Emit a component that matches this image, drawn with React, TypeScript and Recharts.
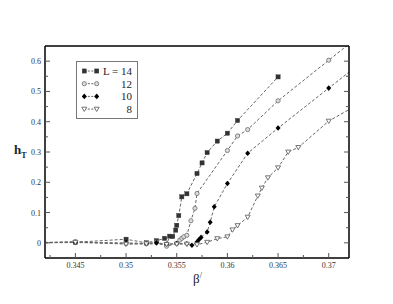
import { Legend, Line, LineChart, XAxis, YAxis } from "recharts"

// beta / h_T readings per lattice size (points outside the frame only carry the dashed line to the edge)
const betaL14 = [0.34, 0.345, 0.35, 0.352, 0.353, 0.3538, 0.354, 0.3543, 0.3546, 0.3549, 0.355, 0.3552, 0.3555, 0.356, 0.357, 0.3575, 0.358, 0.359, 0.36, 0.361, 0.365]
const hL14 = [0, 0.002, 0.012, 0, 0.007, 0.015, -0.005, 0.022, 0.021, 0.042, 0.058, 0.09, 0.152, 0.162, 0.229, 0.264, 0.298, 0.336, 0.362, 0.404, 0.548]

const betaL12 = [0.34, 0.345, 0.35, 0.352, 0.353, 0.354, 0.355, 0.3553, 0.3555, 0.3557, 0.356, 0.3564, 0.3568, 0.357, 0.36, 0.361, 0.362, 0.365, 0.37, 0.375]
const hL12 = [0, 0.004, -0.003, -0.003, 0.002, -0.011, -0.002, 0.009, 0.015, 0.02, 0.025, 0.073, 0.114, 0.163, 0.305, 0.353, 0.374, 0.469, 0.603, 0.737]

const betaL10 = [0.34, 0.345, 0.35, 0.352, 0.353, 0.354, 0.355, 0.356, 0.3565, 0.357, 0.3572, 0.3574, 0.358, 0.3583, 0.3587, 0.36, 0.362, 0.365, 0.37, 0.375]
const hL10 = [0, 0.001, 0, -0.002, 0, -0.004, -0.002, -0.003, -0.008, 0.003, 0.011, 0.018, 0.036, 0.068, 0.119, 0.196, 0.296, 0.379, 0.511, 0.643]

const betaL8 = [0.34, 0.345, 0.35, 0.352, 0.354, 0.355, 0.356, 0.357, 0.358, 0.359, 0.36, 0.3605, 0.361, 0.362, 0.363, 0.3634, 0.364, 0.365, 0.366, 0.367, 0.37, 0.375]
const hL8 = [0, 0.002, -0.004, -0.003, -0.005, -0.004, -0.004, -0.006, 0.002, 0.014, 0.02, 0.043, 0.057, 0.085, 0.155, 0.181, 0.215, 0.248, 0.3, 0.315, 0.402, 0.497]

const seriesLabels = ["L = 14", "12", "10", "8"]
const seriesMarkers = ["square", "circle", "diamond", "triangle"]

const xMajor = [0.345, 0.35, 0.355, 0.36, 0.365, 0.37]
const xMinor = [0.3425, 0.3475, 0.3525, 0.3575, 0.3625, 0.3675]
const yMajor = [0, 0.1, 0.2, 0.3, 0.4, 0.5, 0.6]
const yMinor = [0.05, 0.15, 0.25, 0.35, 0.45, 0.55]

const toPoints = (xs: number[], ys: number[]) => xs.map((beta, i) => ({ beta, h: ys[i] }))

const series = [
  toPoints(betaL14, hL14),
  toPoints(betaL12, hL12),
  toPoints(betaL10, hL10),
  toPoints(betaL8, hL8),
]

const xTicks = [...xMajor, ...xMinor].sort((a, b) => a - b)
const yTicks = [...yMajor, ...yMinor].sort((a, b) => a - b)

const isMajor = (v: number, majors: number[]) => majors.some((m) => Math.abs(m - v) < 1e-9)
const fmt = (v: number) => String(Number(v.toFixed(4)))

const serif = "'Liberation Serif', 'DejaVu Serif', serif"
const tickColor = "#555"
const lineColor = "#666"
const frame = { stroke: "#000", strokeWidth: 1.5 }

function Marker({ kind, cx, cy }: { kind: string; cx: number; cy: number }) {
  if (kind === "square")
    return <rect x={cx - 2.1} y={cy - 2.1} width={4.2} height={4.2} fill="#333" stroke="#333" strokeWidth={0.4} />
  if (kind === "circle")
    return <circle cx={cx} cy={cy} r={2.1} fill="#ddd" stroke="#777" strokeWidth={0.9} />
  if (kind === "diamond")
    return <polygon points={`${cx},${cy - 2.8} ${cx + 2.5},${cy} ${cx},${cy + 2.8} ${cx - 2.5},${cy}`} fill="#000" />
  return (
    <polygon
      points={`${cx - 2.5},${cy - 1.9} ${cx + 2.5},${cy - 1.9} ${cx},${cy + 2.4}`}
      fill="#fff"
      stroke="#666"
      strokeWidth={0.9}
    />
  )
}

function BottomTick({ x, y, payload }: any) {
  const major = isMajor(payload.value, xMajor)
  return (
    <g>
      <line x1={x} x2={x} y1={y} y2={y - (major ? 5 : 3)} stroke={tickColor} />
      {major && (
        <text x={x} y={y + 10} textAnchor="middle" fontSize={8} fontFamily={serif} fill="#333">
          {fmt(payload.value)}
        </text>
      )}
    </g>
  )
}

function TopTick({ x, y, payload }: any) {
  const major = isMajor(payload.value, xMajor)
  return <line x1={x} x2={x} y1={y} y2={y + (major ? 5 : 3)} stroke={tickColor} />
}

function LeftTick({ x, y, payload }: any) {
  const major = isMajor(payload.value, yMajor)
  return (
    <g>
      <line x1={x} x2={x + (major ? 5 : 3)} y1={y} y2={y} stroke={tickColor} />
      {major && (
        <text x={x - 4} y={y + 3} textAnchor="end" fontSize={8} fontFamily={serif} fill="#333">
          {fmt(payload.value)}
        </text>
      )}
    </g>
  )
}

function RightTick({ x, y, payload }: any) {
  const major = isMajor(payload.value, yMajor)
  return <line x1={x} x2={x - (major ? 5 : 3)} y1={y} y2={y} stroke={tickColor} />
}

function LegendBox() {
  return (
    <svg width={62} height={58} style={{ display: "block" }}>
      <rect x={0.5} y={0.5} width={61} height={57} fill="#fff" stroke="#777" strokeWidth={1} />
      {seriesLabels.map((label, i) => {
        const cy = 10 + i * 12.7
        return (
          <g key={label}>
            <line x1={8.3} x2={20.7} y1={cy} y2={cy} stroke={lineColor} strokeDasharray="2 1.5" />
            <Marker kind={seriesMarkers[i]} cx={8.3} cy={cy} />
            <Marker kind={seriesMarkers[i]} cx={20.7} cy={cy} />
            <text x={56} y={cy + 3.8} textAnchor="end" fontSize={11} fontFamily={serif} fill="#222">
              {label}
            </text>
          </g>
        )
      })}
    </svg>
  )
}

export default function App() {
  return (
    <div style={{ position: "absolute", left: 0, top: 0, background: "#fff" }}>
      <LineChart width={393} height={304} margin={{ top: 45, right: 43, bottom: 45, left: 44 }}>
        <XAxis
          dataKey="beta"
          type="number"
          domain={[0.342, 0.372]}
          allowDataOverflow
          ticks={xTicks}
          interval={0}
          height={1}
          tickSize={0}
          tickMargin={0}
          tickLine={false}
          tick={<BottomTick />}
          axisLine={frame}
          label={{
            content: () => (
              <text x={193} y={283} fontSize={13} fontFamily={serif} fill="#222">
                β<tspan dy={-5} fontSize={8}>/</tspan>
              </text>
            ),
          }}
        />
        <XAxis
          xAxisId="top"
          orientation="top"
          type="number"
          domain={[0.342, 0.372]}
          allowDataOverflow
          ticks={xTicks}
          interval={0}
          height={1}
          tickSize={0}
          tickMargin={0}
          tickLine={false}
          tick={<TopTick />}
          axisLine={frame}
        />
        <YAxis
          type="number"
          domain={[-0.05, 0.65]}
          allowDataOverflow
          ticks={yTicks}
          interval={0}
          width={1}
          tickSize={0}
          tickMargin={0}
          tickLine={false}
          tick={<LeftTick />}
          axisLine={frame}
          label={{
            content: () => (
              <text x={14} y={154} fontSize={13} fontWeight="bold" fontFamily={serif} fill="#222">
                h<tspan dy={3.5} fontSize={8}>T</tspan>
              </text>
            ),
          }}
        />
        <YAxis
          yAxisId="right"
          orientation="right"
          type="number"
          domain={[-0.05, 0.65]}
          allowDataOverflow
          ticks={yTicks}
          interval={0}
          width={1}
          tickSize={0}
          tickMargin={0}
          tickLine={false}
          tick={<RightTick />}
          axisLine={frame}
        />
        {series.map((points, i) => (
          <Line
            key={seriesLabels[i]}
            data={points}
            dataKey="h"
            name={seriesLabels[i]}
            type="linear"
            stroke={lineColor}
            strokeWidth={1}
            strokeDasharray="3 2"
            isAnimationActive={false}
            dot={(p: any) => <Marker key={`${i}-${p.index}`} kind={seriesMarkers[i]} cx={p.cx} cy={p.cy} />}
            activeDot={false}
          />
        ))}
        <Legend
          layout="vertical"
          align="center"
          verticalAlign="middle"
          content={() => <LegendBox />}
          wrapperStyle={{ position: "absolute", left: 76, top: 61, width: 62, height: 58 }}
        />
      </LineChart>
    </div>
  )
}
